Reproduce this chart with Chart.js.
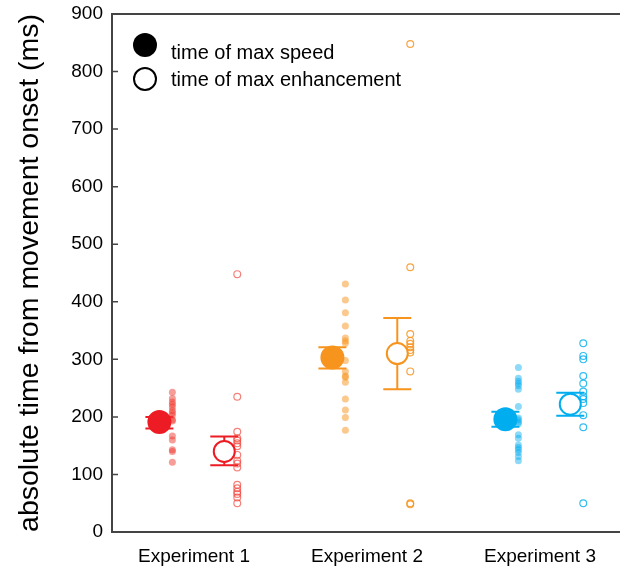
<!DOCTYPE html>
<html>
<head>
<meta charset="utf-8">
<script src="https://cdn.jsdelivr.net/npm/chart.js@4.4.0/dist/chart.umd.min.js"></script>
<style>
  html, body { margin: 0; padding: 0; background: #fff; }
  #wrap { width: 620px; height: 568px; }
</style>
</head>
<body>
<div id="wrap"><canvas id="timingChart" width="620" height="568"></canvas></div>
<script>
const categories = ['Experiment 1', 'Experiment 2', 'Experiment 3'];
const yTicks = [0, 100, 200, 300, 400, 500, 600, 700, 800, 900];

// individual subjects
const speedDots = [
    [243, 232, 226, 222, 217, 211, 207, 203, 195, 193, 167, 160, 143, 140, 121],
    [431, 403, 381, 358, 337, 332, 328, 298, 279, 271, 269, 260, 231, 212, 199, 177],
    [286, 267, 262, 258, 254, 248, 218, 198, 195, 191, 188, 169, 163, 151, 147, 143, 138, 131, 124]
];
const enhDots = [
    [448, 235, 174, 163, 159, 154, 149, 134, 124, 119, 112, 82, 76, 70, 66, 60, 50],
    [848, 460, 344, 332, 327, 321, 316, 312, 279, 50, 48],
    [328, 306, 300, 271, 258, 244, 236, 231, 224, 203, 182, 50]
];

// group means and error bars
const speedMean = [191, 303, 196];
const speedLo = [180, 284, 183];
const speedHi = [200, 321, 209];
const enhMean = [140, 310, 222];
const enhLo = [116, 248, 202];
const enhHi = [166, 372, 242];

const colors = ['#ed1c24', '#f7941d', '#00aeef'];
const dotFill = ['rgba(240,60,50,0.5)', 'rgba(247,148,29,0.5)', 'rgba(0,174,239,0.45)'];
const dotLine = ['rgba(240,60,50,0.65)', 'rgba(247,148,29,0.85)', 'rgba(0,174,239,0.8)'];

const OFF_SPEED = -0.2, OFF_SPEED_DOTS = -0.125, OFF_ENH = 0.175, OFF_ENH_DOTS = 0.25;

const datasets = [];
categories.forEach((c, i) => {
    datasets.push({
        label: c + ' speed mean',
        data: [{ x: i + 1 + OFF_SPEED, y: speedMean[i] }],
        pointRadius: 12, pointBackgroundColor: colors[i], pointBorderColor: colors[i], pointBorderWidth: 0
    });
    datasets.push({
        label: c + ' enh mean',
        data: [{ x: i + 1 + OFF_ENH, y: enhMean[i] }],
        pointRadius: 10.5, pointBackgroundColor: '#fff', pointBorderColor: colors[i], pointBorderWidth: 2
    });
});
categories.forEach((c, i) => {
    datasets.push({
        label: c + ' speed',
        data: speedDots[i].map(v => ({ x: i + 1 + OFF_SPEED_DOTS, y: v })),
        pointRadius: 3.5, pointBackgroundColor: dotFill[i], pointBorderWidth: 0
    });
    datasets.push({
        label: c + ' enh',
        data: enhDots[i].map(v => ({ x: i + 1 + OFF_ENH_DOTS, y: v })),
        pointRadius: 3.4, pointBackgroundColor: 'rgba(0,0,0,0)', pointBorderColor: dotLine[i], pointBorderWidth: 1.2
    });
});

const errorBars = {
    id: 'errorBars',
    beforeDatasetsDraw(chart) {
        const { ctx, scales: { x, y } } = chart;
        const cap = 14;
        ctx.save();
        ctx.lineWidth = 2;
        const draw = (xv, lo, hi, col) => {
            const px = x.getPixelForValue(xv);
            const pl = y.getPixelForValue(lo), ph = y.getPixelForValue(hi);
            ctx.strokeStyle = col;
            ctx.beginPath();
            ctx.moveTo(px, pl); ctx.lineTo(px, ph);
            ctx.moveTo(px - cap, pl); ctx.lineTo(px + cap, pl);
            ctx.moveTo(px - cap, ph); ctx.lineTo(px + cap, ph);
            ctx.stroke();
        };
        categories.forEach((c, i) => {
            draw(i + 1 + OFF_SPEED, speedLo[i], speedHi[i], colors[i]);
            draw(i + 1 + OFF_ENH, enhLo[i], enhHi[i], colors[i]);
        });
        ctx.restore();
    }
};

const frame = {
    id: 'frame',
    afterDraw(chart) {
        const { ctx, chartArea: a, scales: { y } } = chart;
        ctx.save();
        ctx.strokeStyle = '#444';
        ctx.lineWidth = 2;
        ctx.beginPath();
        ctx.moveTo(a.left - 1, a.top); ctx.lineTo(a.right, a.top);
        ctx.stroke();
        ctx.lineWidth = 1.5;
        ctx.beginPath();
        yTicks.forEach(v => {
            const py = y.getPixelForValue(v);
            ctx.moveTo(a.left, py); ctx.lineTo(a.left + 6, py);
        });
        ctx.stroke();
        // legend
        ctx.fillStyle = '#000';
        ctx.beginPath(); ctx.arc(145, 45, 12, 0, Math.PI * 2); ctx.fill();
        ctx.strokeStyle = '#000'; ctx.lineWidth = 2;
        ctx.fillStyle = '#fff';
        ctx.beginPath(); ctx.arc(145, 79, 11, 0, Math.PI * 2); ctx.fill(); ctx.stroke();
        ctx.fillStyle = '#000';
        ctx.font = '20px "Liberation Sans", Arial, sans-serif';
        ctx.textBaseline = 'alphabetic';
        ctx.fillText('time of max speed', 171, 58.5);
        ctx.fillText('time of max enhancement', 171, 86);
        ctx.restore();
    }
};

const noPad = s => { s.paddingLeft = 0; s.paddingRight = 0; s.paddingTop = 0; s.paddingBottom = 0; };

const ctx = document.getElementById('timingChart').getContext('2d');
const timingChart = new Chart(ctx, {
    type: 'scatter',
    data: { datasets: datasets },
    options: {
        responsive: false,
        animation: false,
        layout: { autoPadding: false, padding: { top: 14, right: 0, left: 0, bottom: 0 } },
        scales: {
            x: {
                type: 'linear',
                min: 0.526,
                max: 3.4624,
                afterBuildTicks: s => { s.ticks = [1, 2, 3].map(v => ({ value: v })); },
                afterFit: s => { s.height = 36; noPad(s); },
                grid: { display: false, drawTicks: false },
                border: { color: '#444', width: 2 },
                ticks: {
                    padding: 13,
                    color: '#000',
                    font: { family: '"Liberation Sans", Arial, sans-serif', size: 19 },
                    callback: v => categories[v - 1]
                }
            },
            y: {
                min: 0,
                max: 900,
                afterBuildTicks: s => { s.ticks = yTicks.map(v => ({ value: v })); },
                afterFit: s => { s.width = 112; noPad(s); },
                grid: { display: false, drawTicks: false },
                border: { color: '#444', width: 2 },
                ticks: {
                    padding: 9,
                    color: '#000',
                    font: { family: '"Liberation Sans", Arial, sans-serif', size: 19 }
                },
                title: {
                    display: true,
                    text: 'absolute time from movement onset (ms)',
                    color: '#000',
                    padding: { top: 13, bottom: 0 },
                    font: { family: '"Liberation Sans", Arial, sans-serif', size: 28.5 }
                }
            }
        },
        plugins: {
            legend: { display: false },
            tooltip: { enabled: false }
        }
    },
    plugins: [errorBars, frame]
});
</script>
</body>
</html>
